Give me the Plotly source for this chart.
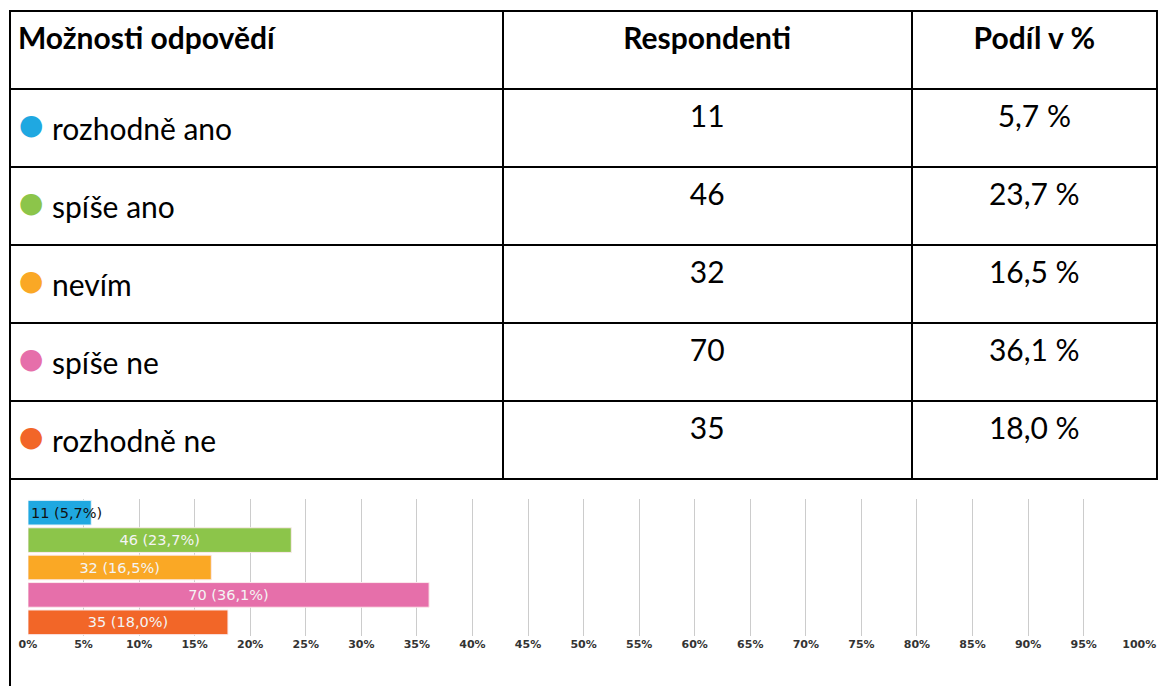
import plotly.graph_objects as go

# ---- data ----
options = ["rozhodně ano", "spíše ano", "nevím", "spíše ne", "rozhodně ne"]
respondents = [11, 46, 32, 70, 35]
shares = [5.7, 23.7, 16.5, 36.1, 18.0]
colors = ["#1FA8E1", "#8CC54A", "#FAA825", "#E66FAA", "#F26628"]
headers = ["Možnosti odpovědí", "Respondenti", "Podíl v %"]
x_ticks = list(range(0, 101, 5))

W, H = 1173, 686
FONT = "Lato"
NB = "\u00a0"
TXT = 30  # visible text size (px)


def nb(s):
    return s.replace(" ", NB)


def span(s, style):
    return f"<span style='{style}'>{nb(s)}</span>"


def cz(p, sep=" "):
    return f"{p:.1f}{sep}%".replace(".", ",")


END = "<br>"  # explicit break: stops the table's own word wrapping
col1 = [span("●", f"color:{c};font-size:44px") + span(NB + o, f"font-size:{TXT}px") + END
        for o, c in zip(options, colors)]
col2 = [span(str(r), f"font-size:{TXT}px") + END for r in respondents]
col3 = [span(cz(p), f"font-size:{TXT}px") + END for p in shares]
head = [span(h, f"font-size:{TXT}px;font-weight:bold") + END for h in headers]

# horizontal placement (px from the left of the page)
X_TABLE = 1.0
COL_EDGES = [504.5, 922.3]
X_AXIS = [19.35, 1155.4]

fig = go.Figure()

fig.add_trace(go.Table(
    domain=dict(x=[X_TABLE / W, 1], y=[1 - 481 / H, 1 - 11 / H]),
    columnwidth=[COL_EDGES[0] - X_TABLE, COL_EDGES[1] - COL_EDGES[0], W - COL_EDGES[1]],
    header=dict(
        values=head,
        align=["left", "center", "center"],
        height=78,
        fill_color="white",
        line=dict(color="black", width=2),
        font=dict(family=FONT, size=42, color="black"),
    ),
    cells=dict(
        values=[col1, col2, col3],
        align=["left", "center", "center"],
        height=78,
        fill_color="white",
        line=dict(color="black", width=2),
        font=dict(family=FONT, size=54, color="black"),
    ),
))

labels = [f"{n} ({cz(p, '')})" for n, p in zip(respondents, shares)]

# first bar: label anchored at start, dark, may overflow
fig.add_trace(go.Bar(
    y=options[:1], x=shares[:1], orientation="h",
    marker=dict(color=colors[:1], line=dict(color="#e8f4fb", width=1)),
    text=labels[:1], textposition="inside", insidetextanchor="start",
    constraintext="none", textangle=0, cliponaxis=False,
    insidetextfont=dict(family="DejaVu Sans", size=14.5, color="#111"),
    hoverinfo="skip", showlegend=False,
))
fig.add_trace(go.Bar(
    y=options[1:], x=shares[1:], orientation="h",
    marker=dict(color=colors[1:], line=dict(color="#fbe9ec", width=1)),
    text=labels[1:], textposition="inside", insidetextanchor="middle",
    constraintext="none", textangle=0,
    insidetextfont=dict(family="DejaVu Sans", size=14.5, color="#f4f4f4"),
    hoverinfo="skip", showlegend=False,
))

fig.update_layout(
    width=W, height=H,
    margin=dict(l=0, r=0, t=0, b=0),
    paper_bgcolor="white", plot_bgcolor="white",
    barmode="overlay", bargap=0.1,
    xaxis=dict(
        domain=[X_AXIS[0] / W, X_AXIS[1] / W], range=[0, 100.05],
        tickvals=x_ticks, ticktext=[f"{t}%" for t in x_ticks],
        showgrid=True, gridcolor="#cccccc", gridwidth=1,
        zeroline=False, showline=False, ticks="",
        ticklabeloverflow="allow",
        tickfont=dict(family="DejaVu Sans", size=11, color="#333", weight="bold"),
    ),
    yaxis=dict(
        domain=[1 - 636 / H, 1 - 499 / H],
        categoryorder="array", categoryarray=options,
        autorange="reversed", showticklabels=False,
        showgrid=False, zeroline=False, showline=False,
    ),
    shapes=[
        dict(type="line", xref="paper", yref="paper",
             x0=X_TABLE / W, x1=X_TABLE / W, y0=0, y1=1 - 479 / H,
             line=dict(color="black", width=2)),
    ],
)

fig.write_html(
    "out.html",
    config={"displayModeBar": False},
    post_script="document.body.style.margin='0';document.body.style.overflow='hidden';",
)
